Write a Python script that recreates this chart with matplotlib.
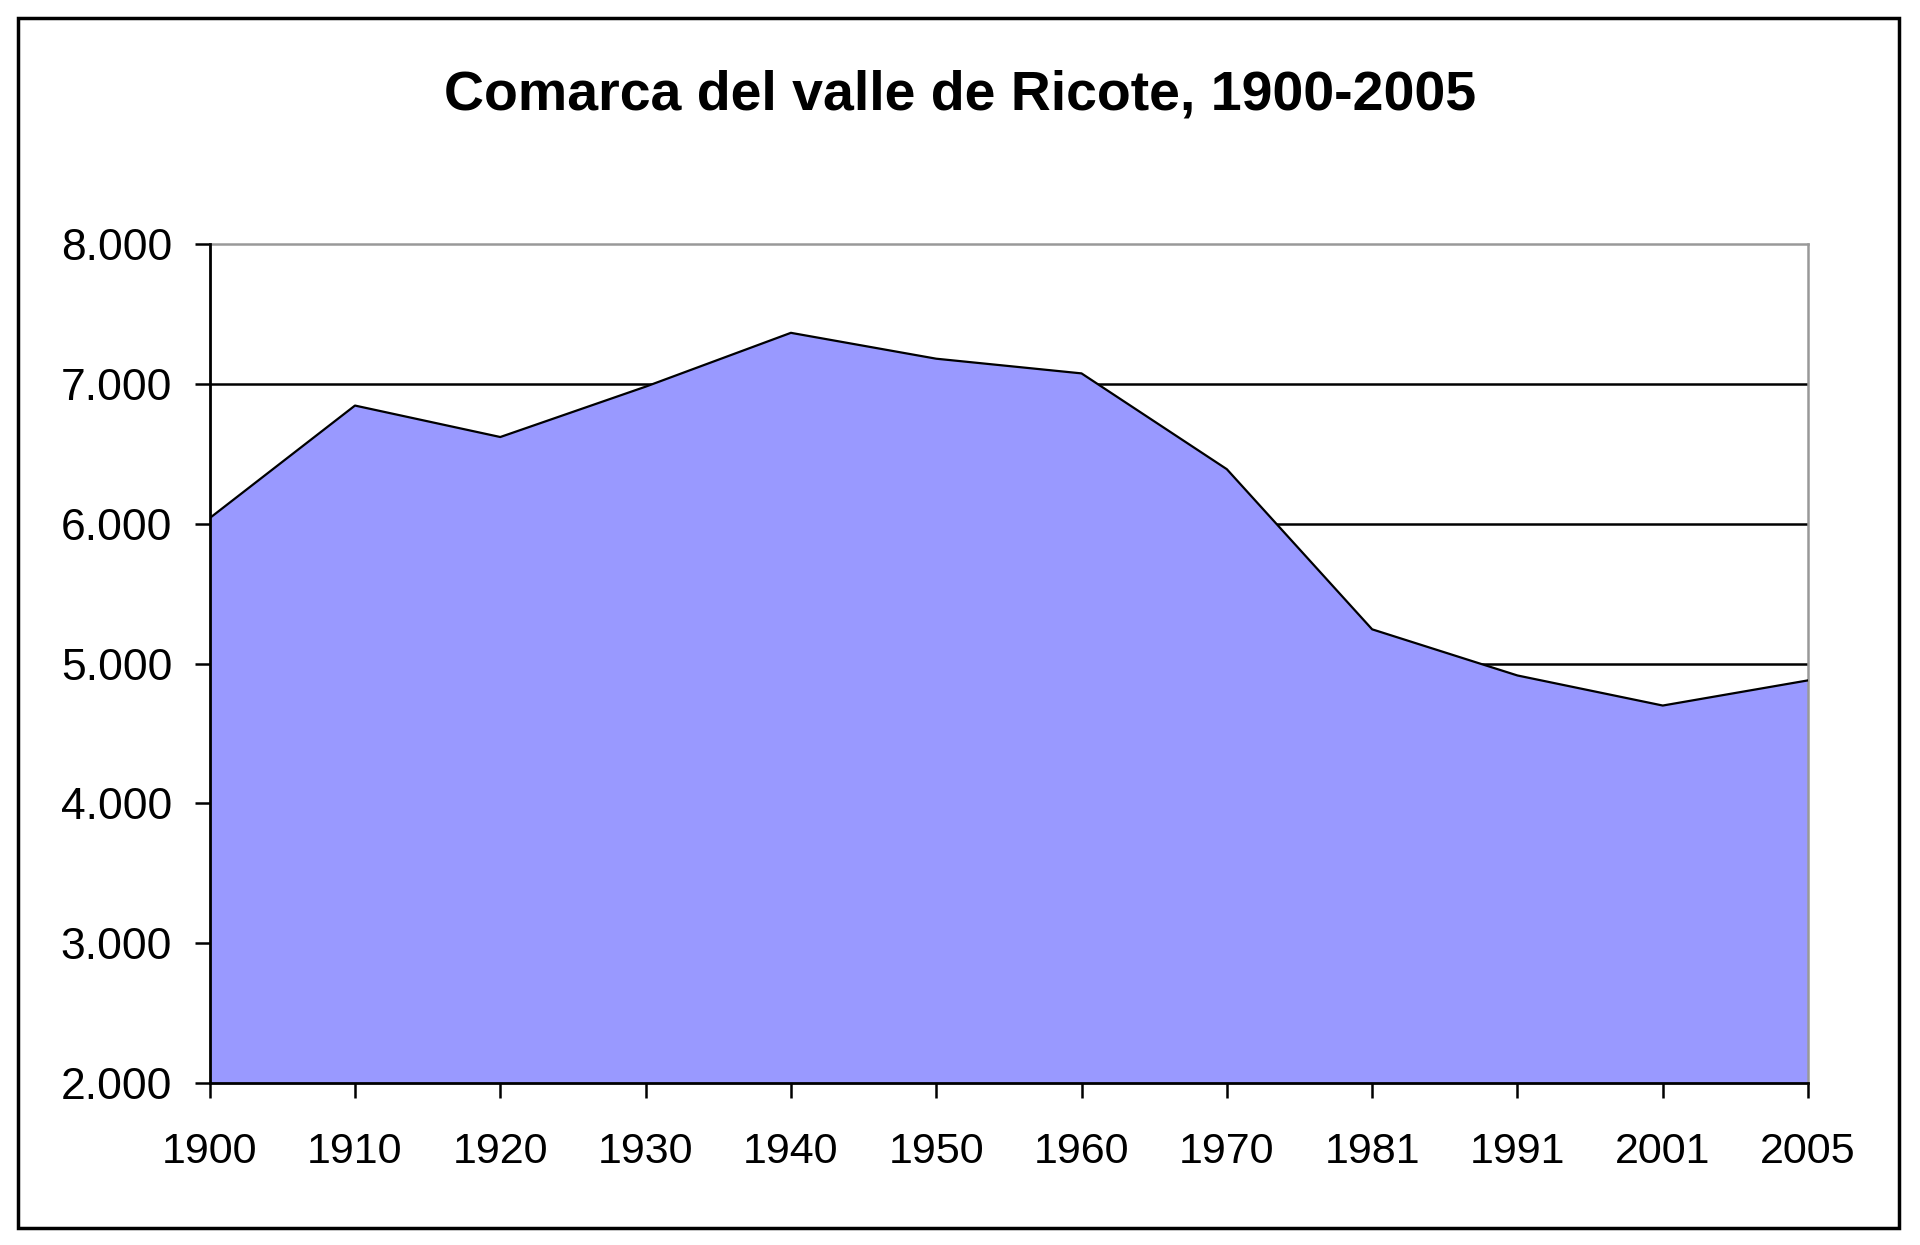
import matplotlib
matplotlib.use("Agg")
import matplotlib.pyplot as plt
from matplotlib.patches import Rectangle
from matplotlib.ticker import FuncFormatter

# population of the Ricote valley district, by census year
years = ["1900", "1910", "1920", "1930", "1940", "1950",
         "1960", "1970", "1981", "1991", "2001", "2005"]
population = [6040, 6845, 6620, 6980, 7365, 7180,
              7075, 6390, 5245, 4915, 4700, 4880]
y_ticks = [2000, 3000, 4000, 5000, 6000, 7000, 8000]

plt.rcParams['font.family'] = ['Liberation Sans', 'DejaVu Sans']

fig = plt.figure(figsize=(19.2, 12.45), dpi=100)
ax = fig.add_axes([0.1092, 0.130, 0.8325, 0.674])

x = list(range(len(years)))

# grid lines first, the area covers them
for v in y_ticks[1:-1]:
    ax.axhline(v, color='black', lw=1.8, zorder=1)

ax.fill_between(x, population, 2000, facecolor='#9999ff', edgecolor='none', zorder=2)
ax.plot(x, population, color='black', lw=1.6, zorder=3)

ax.set_xlim(0, len(years) - 1)
ax.set_ylim(2000, 8000)
ax.set_xticks(x)
ax.set_xticklabels(years)
ax.set_yticks(y_ticks)
ax.yaxis.set_major_formatter(FuncFormatter(lambda v, p: f"{int(v):,}".replace(",", ".")))

ax.tick_params(axis='both', direction='out', length=11, width=1.8, colors='black')
ax.tick_params(axis='y', pad=16, labelsize=32)
ax.tick_params(axis='x', pad=24, labelsize=31)

for side in ['left', 'bottom']:
    ax.spines[side].set_color('black')
    ax.spines[side].set_linewidth(2)
    ax.spines[side].set_zorder(4)
for side in ['top', 'right']:
    ax.spines[side].set_color('#999999')
    ax.spines[side].set_linewidth(1.8)

fig.text(0.5, 0.923, "Comarca del valle de Ricote, 1900-2005",
         ha='center', va='center', fontsize=40, fontweight='bold')

# chart border
fig.patches.append(Rectangle((0.0094, 0.0138), 0.9796, 0.9717,
                             transform=fig.transFigure, fill=False,
                             edgecolor='black', lw=2.5))

fig.savefig("out.png", dpi=100)
